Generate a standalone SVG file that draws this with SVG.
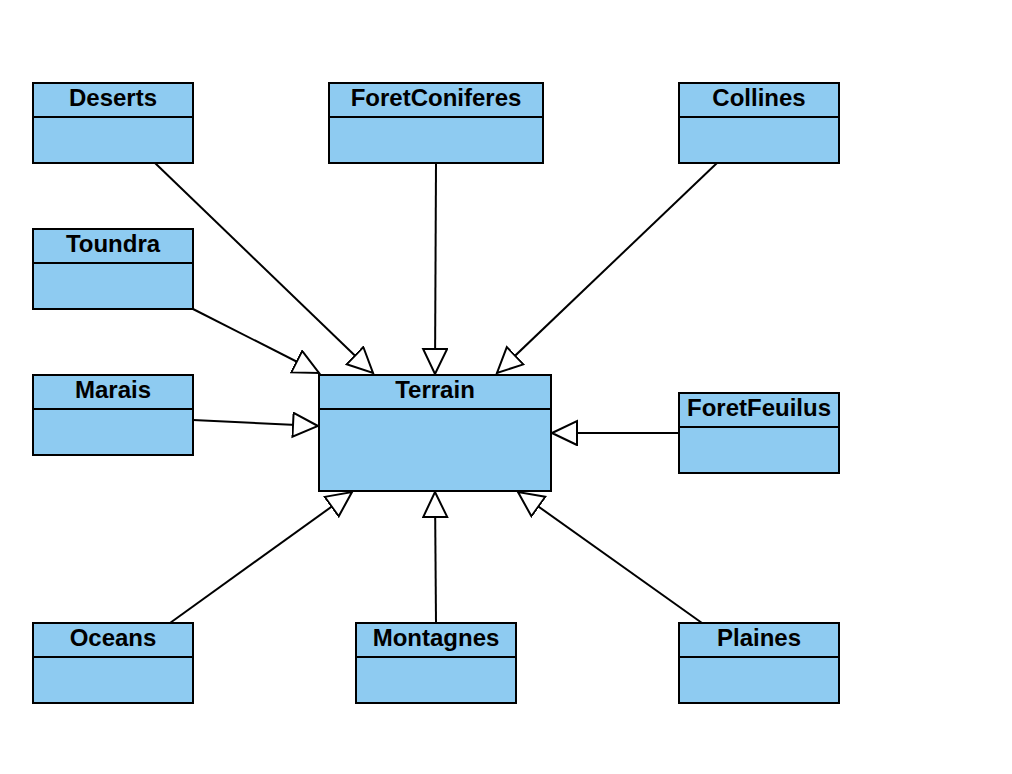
<svg xmlns="http://www.w3.org/2000/svg" width="1012" height="774" viewBox="0 0 1012 774">
<style>
.box{fill:#8ecbf1;stroke:#000;stroke-width:2}
.div{stroke:#000;stroke-width:2}
.t{font-family:"Liberation Sans",Arial,sans-serif;font-weight:bold;font-size:24px;text-anchor:middle;fill:#000}
.c{stroke:#000;stroke-width:2;fill:none;marker-end:url(#tri)}
</style>
<defs>
<marker id="tri" markerUnits="userSpaceOnUse" markerWidth="28" markerHeight="28" viewBox="0 0 28 28" refX="26" refY="13" orient="auto">
<path d="M1,1 L26,13 L1,25 Z" fill="#fff" stroke="#000" stroke-width="2"/>
</marker>
</defs>
<rect width="1012" height="774" fill="#fff"/>
<g id="connectors">
<line class="c" x1="155" y1="163" x2="373" y2="373"/>
<line class="c" x1="436" y1="163" x2="435" y2="374"/>
<line class="c" x1="717" y1="163" x2="497" y2="373"/>
<line class="c" x1="193" y1="309" x2="319" y2="373"/>
<line class="c" x1="193" y1="420" x2="318" y2="426"/>
<line class="c" x1="679" y1="433" x2="552" y2="433"/>
<line class="c" x1="170" y1="623" x2="352" y2="492"/>
<line class="c" x1="436" y1="623" x2="435" y2="492"/>
<line class="c" x1="702" y1="623" x2="518" y2="492"/>
</g>
<g id="Terrain">
<rect class="box" x="319" y="375" width="232" height="116"/>
<line class="div" x1="319" y1="409" x2="551" y2="409"/>
<text class="t" x="435" y="398">Terrain</text>
</g>
<g id="Deserts">
<rect class="box" x="33" y="83" width="160" height="80"/>
<line class="div" x1="33" y1="117" x2="193" y2="117"/>
<text class="t" x="113" y="106">Deserts</text>
</g>
<g id="ForetConiferes">
<rect class="box" x="329" y="83" width="214" height="80"/>
<line class="div" x1="329" y1="117" x2="543" y2="117"/>
<text class="t" x="436" y="106">ForetConiferes</text>
</g>
<g id="Collines">
<rect class="box" x="679" y="83" width="160" height="80"/>
<line class="div" x1="679" y1="117" x2="839" y2="117"/>
<text class="t" x="759" y="106">Collines</text>
</g>
<g id="Toundra">
<rect class="box" x="33" y="229" width="160" height="80"/>
<line class="div" x1="33" y1="263" x2="193" y2="263"/>
<text class="t" x="113" y="252">Toundra</text>
</g>
<g id="Marais">
<rect class="box" x="33" y="375" width="160" height="80"/>
<line class="div" x1="33" y1="409" x2="193" y2="409"/>
<text class="t" x="113" y="398">Marais</text>
</g>
<g id="ForetFeuilus">
<rect class="box" x="679" y="393" width="160" height="80"/>
<line class="div" x1="679" y1="427" x2="839" y2="427"/>
<text class="t" x="759" y="416">ForetFeuilus</text>
</g>
<g id="Oceans">
<rect class="box" x="33" y="623" width="160" height="80"/>
<line class="div" x1="33" y1="657" x2="193" y2="657"/>
<text class="t" x="113" y="646">Oceans</text>
</g>
<g id="Montagnes">
<rect class="box" x="356" y="623" width="160" height="80"/>
<line class="div" x1="356" y1="657" x2="516" y2="657"/>
<text class="t" x="436" y="646">Montagnes</text>
</g>
<g id="Plaines">
<rect class="box" x="679" y="623" width="160" height="80"/>
<line class="div" x1="679" y1="657" x2="839" y2="657"/>
<text class="t" x="759" y="646">Plaines</text>
</g>
</svg>
